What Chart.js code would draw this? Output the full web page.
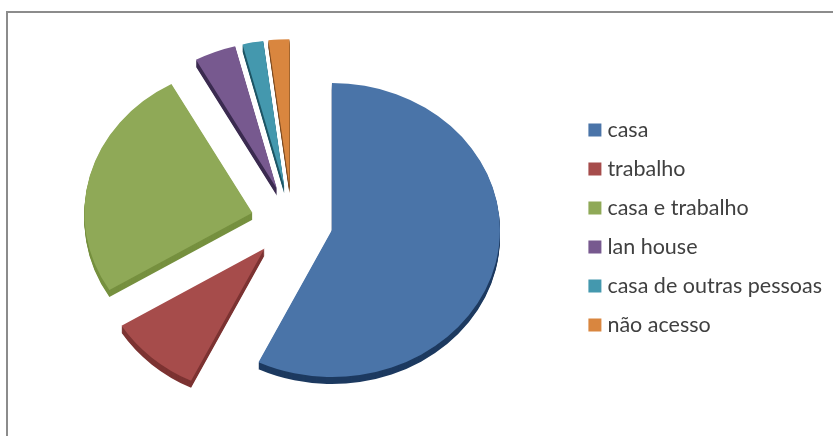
<!DOCTYPE html>
<html>
<head>
<meta charset="utf-8">
<script src="https://cdn.jsdelivr.net/npm/chart.js@4"></script>
<style>
    html, body { margin: 0; padding: 0; background: #fff; overflow: hidden; }
    #wrap { position: relative; width: 833px; height: 436px; }
    #frame { position: absolute; left: 6px; top: 11px; right: -4px; bottom: -4px; border: 2px solid #8c8c8c; }
    canvas { position: absolute; left: 0; top: 0; }
</style>
</head>
<body>
<div id="wrap">
    <div id="frame"></div>
    <canvas id="grafica" width="833" height="436"></canvas>
</div>
<script>
const categories = ['casa', 'trabalho', 'casa e trabalho', 'lan house', 'casa de outras pessoas', 'não acesso'];
const values = [57.2, 9, 25.8, 4, 2, 2];
const topColors = ['#4a74a8', '#a64c4b', '#8fa957', '#77598f', '#4498ae', '#d9863f'];
const wallColors = ['#1d3a60', '#7c3332', '#76903f', '#3b2b50', '#1f5666', '#7a4a22'];

// pie look: tilted, exploded slices with a side wall
const pie = { cx: 292, cy: 222, tilt: 0.875, explode: 41, depth: 7 };

const pie3d = {
    id: 'pie3d',
    beforeDatasetsDraw(chart) {
        const ctx = chart.ctx;
        chart.getDatasetMeta(0).data.forEach(function(arc, i) {
            const mid = (arc.startAngle + arc.endAngle) / 2;
            const px = pie.cx + Math.cos(mid) * pie.explode;
            const py = pie.cy + Math.sin(mid) * pie.explode * pie.tilt;
            const topOptions = arc.options;

            // the wall is the same slice repeated downwards
            arc.options = Object.assign({}, topOptions, { backgroundColor: wallColors[i] });
            for (let d = pie.depth; d > 0; d--) {
                ctx.save();
                ctx.translate(px, py + d);
                ctx.scale(1, pie.tilt);
                ctx.translate(-arc.x, -arc.y);
                arc.draw(ctx);
                ctx.restore();
            }
            arc.options = topOptions;

            ctx.save();
            ctx.translate(px, py);
            ctx.scale(1, pie.tilt);
            ctx.translate(-arc.x, -arc.y);
            arc.draw(ctx);
            ctx.restore();
        });
        return false;
    }
};

new Chart(document.getElementById('grafica').getContext('2d'), {
    type: 'pie',
    data: {
        labels: categories,
        datasets: [{
            data: values,
            backgroundColor: topColors,
            borderWidth: 0
        }]
    },
    options: {
        responsive: false,
        animation: false,
        radius: 168,
        layout: { padding: { top: 19, right: 1 } },
        events: [],
        plugins: {
            tooltip: { enabled: false },
            legend: {
                position: 'right',
                labels: {
                    // thin box with a thick same-colour stroke: 13px swatch, closer to the text
                    boxWidth: 3.5,
                    boxHeight: 3.5,
                    padding: 17.5,
                    color: '#404040',
                    font: { family: 'Lato', size: 21.5 },
                    generateLabels(chart) {
                        return Chart.overrides.pie.plugins.legend.labels.generateLabels(chart).map(function(item) {
                            item.strokeStyle = item.fillStyle;
                            item.lineWidth = 9.5;
                            return item;
                        });
                    }
                }
            }
        }
    },
    plugins: [pie3d]
});
</script>
</body>
</html>
